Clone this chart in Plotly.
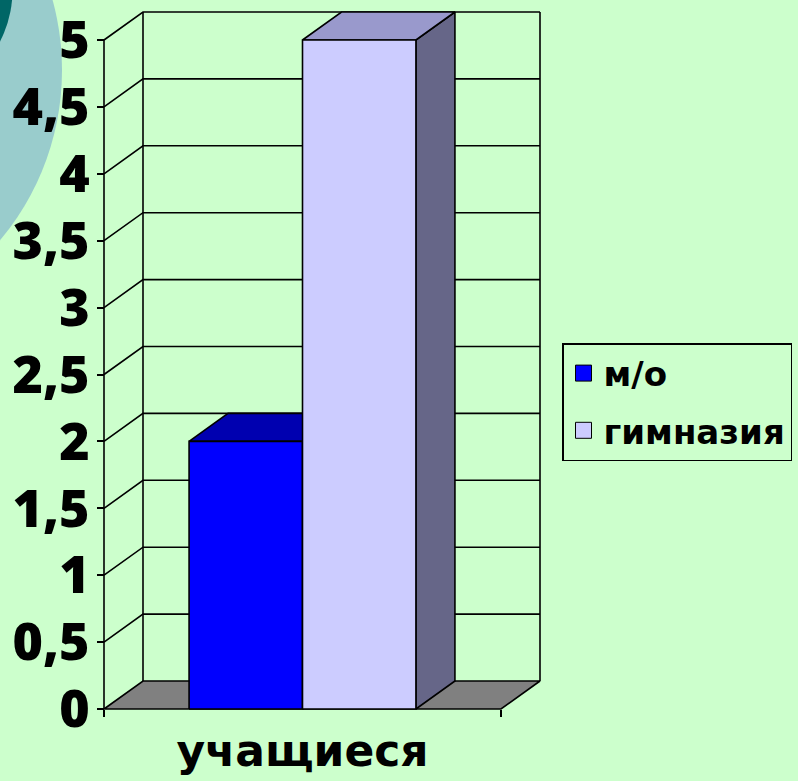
import plotly.graph_objects as go

# ---- data ----
categories = ["учащиеся"]
series_names = ["м/о", "гимназия"]
series_values = [2, 5]
y_tick_values = [0, 0.5, 1, 1.5, 2, 2.5, 3, 3.5, 4, 4.5, 5]

# ---- style ----
W, H = 798, 781
BG = "#CCFFCC"
front_colors = ["#0000FF", "#CCCCFF"]
top_colors = ["#0000B0", "#9999CC"]
side_colors = ["#000080", "#666688"]
FLOOR = "#808080"
FONT = "DejaVu Sans"
TICK_FONT = "Open Sans"
LW = 1.6

# pixel geometry of the 3D box
fx0, fx1 = 104, 501      # front plane x extent
fy0, fy5 = 709, 40       # front plane y of value 0 and 5
DPX, DPY = 39, 28        # depth offset in pixels
ymax_val = max(y_tick_values)
ux = fx1 - fx0                    # px per x unit
uy = (fy0 - fy5) / ymax_val       # px per y unit
dx = DPX / ux
dy = DPY / uy

# axis domains (a few px margin so edge lines are not clipped)
dom_l, dom_r = fx0 - 4, fx1 + DPX + 4
dom_b, dom_t = fy0 + 4, fy5 - DPY - 4
x_range = [(dom_l - fx0) / ux, (dom_r - fx0) / ux]
y_range = [-(dom_b - fy0) / uy, (fy0 - dom_t) / uy]

fig = go.Figure()

def poly(xs, ys, fill, lw=LW):
    fig.add_trace(go.Scatter(
        x=list(xs) + [xs[0]], y=list(ys) + [ys[0]], mode="lines",
        fill="toself", fillcolor=fill, line=dict(color="black", width=lw),
        hoverinfo="skip", showlegend=False))

def line(xs, ys, lw=LW):
    fig.add_trace(go.Scatter(
        x=xs, y=ys, mode="lines", line=dict(color="black", width=lw),
        hoverinfo="skip", showlegend=False))

# floor
poly([0, 1, 1 + dx, dx], [0, 0, dy, dy], FLOOR)
# back wall gridlines and left wall diagonals
for t in y_tick_values:
    if t == 0:
        continue
    line([0, dx, 1 + dx], [t, t + dy, t + dy])
# back wall verticals
line([dx, dx], [dy, ymax_val + dy])
line([1 + dx, 1 + dx], [dy, ymax_val + dy])
# front y-axis line
line([0, 0], [0, ymax_val])

# bars (gap width 150%)
n = len(series_values)
bw = 1.0 / (n + 1.5)
start = 0.75 * bw
for i, (name, v) in enumerate(zip(series_names, series_values)):
    x0 = start + i * bw
    x1 = x0 + bw
    poly([x1, x1 + dx, x1 + dx, x1], [0, dy, v + dy, v], side_colors[i])
    poly([x0, x1, x1 + dx, x0 + dx], [v, v, v + dy, v + dy], top_colors[i])
    poly([x0, x1, x1, x0], [0, 0, v, v], front_colors[i])

# legend entries
for i, name in enumerate(series_names):
    fig.add_trace(go.Scatter(
        x=[None], y=[None], mode="markers", name=name, legendgroup=f"g{i}",
        marker=dict(symbol="square", size=16, color=front_colors[i],
                    line=dict(color="black", width=1))))

fig.update_layout(
    width=W, height=H,
    margin=dict(l=0, r=0, t=0, b=0, autoexpand=False),
    paper_bgcolor=BG, plot_bgcolor=BG,
    separators=", ",
    font=dict(family=FONT, color="black"),
    showlegend=True,
    legend=dict(
        x=562 / W, y=1 - 343 / H, xanchor="left", yanchor="top",
        bgcolor="rgba(0,0,0,0)", bordercolor="black", borderwidth=1.5,
        font=dict(family=FONT, size=34, color="black", weight="bold"),
        tracegroupgap=10, itemsizing="trace"),
    xaxis=dict(
        domain=[dom_l / W, dom_r / W], range=x_range,
        anchor="free", position=1 - fy0 / H, automargin=False,
        showgrid=False, zeroline=False, showline=False,
        tickvals=[0.5], ticktext=categories, ticks="",
        tickfont=dict(family=FONT, size=44, color="black", weight="bold"),
        ticklabelstandoff=12,
        minor=dict(tickvals=[0, 1], ticks="outside", ticklen=7,
                   tickwidth=LW, tickcolor="black", showgrid=False),
    ),
    yaxis=dict(
        domain=[1 - dom_b / H, 1 - dom_t / H], range=y_range,
        anchor="free", position=fx0 / W, automargin=False,
        showgrid=False, zeroline=False, showline=False,
        tickvals=y_tick_values, ticks="outside", ticklen=7,
        tickwidth=LW, tickcolor="black",
        tickfont=dict(family=TICK_FONT, size=52, color="black", weight=800),
        ticklabelstandoff=-3,
    ),
    shapes=[
        dict(type="circle", xref="paper", yref="paper", layer="below",
             x0=-468 / W, x1=62 / W, y0=1 - 335 / H, y1=1 + 195 / H,
             fillcolor="#99CCCC", line=dict(width=0)),
        dict(type="circle", xref="paper", yref="paper", layer="below",
             x0=-212.5 / W, x1=12.5 / W, y0=1 - 102.5 / H, y1=1 + 122.5 / H,
             fillcolor="#006666", line=dict(width=0)),
    ],
)

fig.write_html(
    "out.html",
    config={"displayModeBar": False},
    post_script="document.body.style.margin='0';document.body.style.overflow='hidden';",
)
